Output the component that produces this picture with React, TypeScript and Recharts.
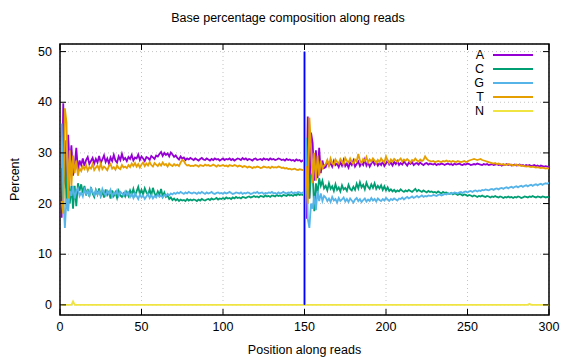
import React from "react";
import { ComposedChart, Line, XAxis, YAxis, CartesianGrid, ReferenceLine, ReferenceArea, Legend } from "recharts";

// read 1 (positions 1-150) and read 2 (151-300), percent per base
const aRead1 = [
    17.2, 39.8, 24.5, 23.0, 33.6, 27.0, 31.5, 25.5, 27.5, 31.0,
    26.5, 28.5, 27.6, 28.9, 27.4, 28.6, 29.2, 27.8, 28.4, 29.0,
    27.9, 28.8, 28.1, 29.4, 28.0, 28.7, 29.5, 28.2, 28.9, 27.9,
    29.1, 28.4, 29.6, 28.5, 28.1, 29.3, 28.6, 29.8, 28.7, 29.0,
    28.4, 29.2, 28.8, 29.6, 28.5, 29.1, 28.9, 29.7, 28.6, 29.3,
    28.9, 28.4, 29.2, 29.0, 28.6, 29.4, 29.1, 28.8, 29.5, 29.3,
    29.8, 30.2, 29.4, 30.0, 29.6, 29.9, 29.3, 30.1, 29.7, 29.2,
    29.5, 29.0, 28.7, 29.3, 28.9, 29.1, 28.6, 28.9, 28.7, 29.0,
    28.8, 28.6, 28.9, 28.7, 28.5, 28.8, 29.0, 28.7, 28.6, 28.9,
    28.7, 28.5, 28.8, 28.6, 28.9, 28.7, 28.8, 28.5, 28.7, 28.9,
    28.6, 28.8, 28.7, 28.9, 28.6, 28.8, 28.5, 28.7, 28.9, 28.8,
    28.6, 29.0, 28.7, 28.9, 28.6, 28.8, 28.7, 28.5, 28.8, 28.9,
    28.6, 28.7, 28.8, 28.6, 28.9, 28.7, 28.8, 28.6, 28.9, 28.7,
    28.8, 28.6, 28.7, 28.9, 28.8, 28.6, 28.7, 28.5, 28.8, 28.6,
    28.7, 28.5, 28.6, 28.4, 28.7, 28.5, 28.6, 28.3, 28.5, 28.4,
];
const aRead2 = [
    17.0, 37.2, 21.0, 34.0, 32.0, 24.5, 30.5, 25.0, 31.0, 26.0,
    28.5, 27.0, 27.2, 28.3, 27.5, 28.0, 27.3, 28.4, 27.6, 27.9,
    27.2, 28.2, 27.5, 28.6, 27.4, 27.9, 27.1, 28.1, 27.6, 28.5,
    27.3, 27.8, 28.3, 27.4, 28.0, 27.6, 28.7, 27.5, 28.1, 27.3,
    27.9, 28.4, 27.7, 28.2, 27.5, 28.0, 27.6, 28.3, 27.4, 27.9,
    28.5, 27.7, 28.1, 27.5, 28.2, 27.8, 28.4, 27.6, 28.0, 27.7,
    28.3, 27.9, 27.5, 28.1, 27.8, 28.2, 27.6, 27.9, 28.0, 27.7,
    28.1, 27.8, 27.6, 27.9, 28.0, 27.7, 27.9, 27.8, 27.7, 27.9,
    27.6, 27.8, 27.7, 27.9, 27.8, 27.6, 27.8, 27.9, 27.7, 27.8,
    27.6, 27.9, 27.7, 27.8, 27.9, 27.7, 27.6, 27.8, 27.7, 27.9,
    27.8, 27.6, 27.7, 27.8, 27.7, 27.9, 27.8, 27.7, 27.6, 27.8,
    27.7, 27.8, 27.6, 27.7, 27.8, 27.6, 27.7, 27.8, 27.6, 27.7,
    27.5, 27.7, 27.6, 27.8, 27.6, 27.7, 27.5, 27.6, 27.7, 27.5,
    27.6, 27.7, 27.5, 27.6, 27.4, 27.6, 27.5, 27.6, 27.4, 27.5,
    27.6, 27.4, 27.5, 27.3, 27.5, 27.4, 27.3, 27.4, 27.3, 27.2,
];

const cRead1 = [
    27.0, 21.0, 32.5, 19.5, 27.0, 20.0, 23.5, 19.0, 23.5, 19.5,
    24.0, 22.5, 23.8, 22.1, 23.5, 21.6, 22.9, 21.4, 23.2, 22.0,
    21.3, 22.7, 21.8, 23.0, 21.5, 22.4, 21.2, 22.8, 21.7, 22.3,
    21.0, 22.6, 21.5, 22.2, 21.1, 22.5, 21.6, 21.3, 22.0, 21.4,
    22.3, 21.5, 22.6, 21.8, 22.9, 21.6, 22.4, 23.3, 21.9, 22.7,
    21.8, 23.0, 22.2, 21.7, 22.8, 21.6, 23.1, 22.0, 21.5, 22.4,
    21.7, 22.9, 21.4, 22.2, 21.3, 21.6, 20.9, 21.2, 20.7, 21.0,
    20.6, 20.9, 20.5, 20.8, 20.6, 20.7, 20.5, 20.9, 20.6, 20.8,
    20.6, 20.8, 20.7, 20.5, 20.8, 20.6, 20.9, 20.7, 20.6, 20.8,
    20.9, 20.7, 21.0, 20.8, 20.9, 21.1, 20.8, 21.0, 20.9, 21.1,
    20.9, 21.2, 21.0, 21.1, 20.9, 21.2, 21.0, 21.3, 21.1, 21.2,
    21.0, 21.3, 21.2, 21.1, 21.3, 21.4, 21.2, 21.3, 21.5, 21.3,
    21.4, 21.2, 21.5, 21.4, 21.3, 21.6, 21.4, 21.5, 21.3, 21.6,
    21.5, 21.4, 21.7, 21.5, 21.6, 21.4, 21.7, 21.6, 21.5, 21.8,
    21.6, 21.7, 21.5, 21.8, 21.6, 21.9, 21.7, 21.8, 21.7, 21.9,
];
const cRead2 = [
    22.0, 27.0, 21.0, 25.5, 26.0, 18.5, 24.0, 22.0, 25.0, 23.5,
    24.5, 23.0, 23.5, 22.6, 24.0, 22.9, 23.4, 22.5, 23.8, 22.7,
    23.2, 22.4, 23.6, 22.8, 23.1, 22.5, 23.7, 22.9, 22.6, 23.3,
    22.7, 23.9, 23.0, 24.2, 23.2, 23.7, 22.8, 24.1, 23.3, 22.9,
    23.8, 23.1, 24.0, 22.9, 23.5, 23.0, 23.6, 22.7, 23.4, 22.6,
    23.2, 22.5, 22.8, 22.4, 22.7, 22.3, 22.6, 22.4, 22.8, 22.5,
    22.3, 22.6, 22.4, 22.7, 22.5, 22.3, 22.6, 22.9, 22.4, 22.7,
    22.5, 22.3, 22.6, 22.4, 22.2, 22.5, 22.3, 22.4, 22.2, 22.3,
    22.1, 22.4, 22.2, 22.0, 22.3, 22.1, 22.2, 22.0, 21.9, 22.1,
    21.8, 22.0, 21.9, 21.7, 21.9, 21.8, 21.6, 21.8, 21.7, 21.5,
    21.7, 21.6, 21.4, 21.6, 21.5, 21.3, 21.5, 21.4, 21.6, 21.4,
    21.3, 21.5, 21.4, 21.2, 21.4, 21.3, 21.5, 21.3, 21.2, 21.4,
    21.3, 21.1, 21.3, 21.2, 21.4, 21.2, 21.3, 21.1, 21.3, 21.2,
    21.4, 21.3, 21.1, 21.2, 21.4, 21.3, 21.2, 21.4, 21.3, 21.5,
    21.3, 21.2, 21.4, 21.3, 21.2, 21.4, 21.3, 21.2, 21.3, 21.2,
];

const gRead1 = [
    35.8, 21.5, 15.2, 21.0, 18.5, 22.5, 21.5, 23.5, 21.0, 22.5,
    23.0, 21.5, 22.2, 21.4, 22.8, 21.9, 22.5, 21.6, 23.0, 22.3,
    21.7, 22.6, 21.8, 22.4, 21.5, 22.9, 22.1, 21.6, 22.5, 21.9,
    22.7, 21.4, 22.2, 21.8, 22.6, 21.5, 22.3, 22.0, 21.6, 22.4,
    21.7, 22.2, 21.3, 21.9, 21.1, 22.0, 21.5, 20.9, 21.8, 21.2,
    21.6, 20.9, 21.4, 21.9, 21.1, 21.7, 21.0, 21.5, 21.2, 21.8,
    21.3, 21.6, 21.2, 21.7, 21.5, 21.9, 21.6, 22.0, 21.8, 22.1,
    21.9, 22.2, 22.0, 22.3, 22.1, 21.9, 22.2, 22.0, 22.3, 22.1,
    22.0, 22.2, 22.1, 21.9, 22.2, 22.0, 22.3, 22.1, 21.9, 22.2,
    22.0, 22.1, 22.3, 22.0, 21.9, 22.1, 22.2, 22.0, 22.1, 21.9,
    22.2, 22.0, 22.1, 22.3, 22.1, 21.9, 22.0, 22.2, 22.1, 22.0,
    22.2, 21.9, 22.1, 22.0, 22.2, 22.1, 21.9, 22.0, 22.2, 22.1,
    22.3, 22.0, 22.1, 22.2, 21.9, 22.1, 22.0, 22.2, 22.1, 22.3,
    22.0, 22.1, 21.9, 22.2, 22.0, 22.1, 22.3, 22.1, 22.0, 22.2,
    22.1, 22.3, 22.0, 22.2, 22.1, 22.3, 22.2, 22.0, 22.2, 22.1,
];
const gRead2 = [
    33.0, 17.0, 15.2, 20.0, 19.0, 21.5, 18.7, 22.5, 20.5, 22.0,
    20.5, 21.5, 21.2, 20.5, 21.0, 20.3, 21.3, 20.6, 20.9, 20.2,
    21.1, 20.5, 20.8, 21.2, 20.4, 20.9, 20.3, 21.0, 20.6, 20.2,
    20.8, 21.1, 20.5, 20.9, 20.3, 20.7, 21.0, 20.4, 20.8, 20.5,
    21.1, 20.6, 20.9, 20.4, 21.0, 20.7, 20.5, 20.9, 20.6, 21.1,
    20.8, 20.5, 20.9, 20.7, 21.0, 20.8, 20.6, 21.0, 20.9, 21.2,
    20.8, 21.1, 21.3, 21.0, 21.2, 21.4, 21.1, 21.3, 21.5, 21.2,
    21.4, 21.6, 21.3, 21.5, 21.4, 21.6, 21.5, 21.5, 21.7, 21.6,
    21.5, 21.7, 21.8, 21.6, 21.7, 21.9, 21.8, 22.0, 21.9, 22.1,
    22.0, 22.2, 22.1, 22.0, 22.2, 22.3, 22.1, 22.3, 22.4, 22.2,
    22.4, 22.5, 22.3, 22.5, 22.6, 22.4, 22.6, 22.5, 22.7, 22.6,
    22.8, 22.7, 22.6, 22.8, 22.9, 22.7, 22.9, 23.0, 22.8, 23.0,
    23.1, 22.9, 23.1, 23.2, 23.0, 23.2, 23.3, 23.1, 23.3, 23.4,
    23.2, 23.4, 23.5, 23.3, 23.5, 23.6, 23.4, 23.6, 23.7, 23.5,
    23.7, 23.8, 23.6, 23.8, 23.9, 23.7, 23.9, 24.0, 23.9, 24.1,
];

const tRead1 = [
    20.5, 18.0, 38.8, 36.0, 21.0, 30.5, 23.5, 29.5, 26.0, 28.5,
    25.5, 27.0, 26.4, 27.3, 26.8, 27.6, 26.5, 27.2, 26.9, 27.8,
    26.6, 27.1, 27.5, 26.7, 27.9, 26.8, 27.3, 27.0, 26.6, 27.4,
    27.8, 26.9, 27.2, 26.7, 27.5, 27.0, 26.8, 27.6, 27.1, 27.3,
    27.0, 27.6, 27.2, 27.9, 27.4, 28.0, 27.3, 27.8, 27.1, 27.7,
    28.1, 27.4, 27.9, 27.5, 28.2, 27.6, 27.3, 28.0, 27.7, 27.4,
    27.9, 27.5, 28.1, 27.6, 27.8, 27.3, 27.9, 27.6, 27.4, 27.8,
    27.5, 27.7, 27.4, 28.1, 28.6, 28.4, 27.8, 27.5, 27.6, 27.4,
    27.5, 27.4, 27.6, 27.5, 27.3, 27.6, 27.5, 27.4, 27.7, 27.5,
    27.6, 27.4, 27.5, 27.7, 27.5, 27.3, 27.6, 27.4, 27.5, 27.6,
    27.4, 27.5, 27.3, 27.6, 27.5, 27.4, 27.6, 27.5, 27.3, 27.5,
    27.4, 27.2, 27.4, 27.3, 27.1, 27.3, 27.2, 27.0, 27.2, 27.1,
    27.3, 27.2, 27.0, 27.1, 27.3, 27.2, 27.1, 27.2, 27.0, 27.3,
    27.1, 27.2, 27.1, 27.3, 27.2, 27.0, 27.1, 26.9, 27.0, 26.8,
    26.9, 26.7, 26.8, 26.9, 26.7, 26.6, 26.8, 26.7, 26.6, 26.5,
];
const tRead2 = [
    27.0, 20.0, 37.0, 31.0, 24.0, 30.0, 24.5, 29.5, 25.5, 28.5,
    27.0, 27.5, 27.8, 28.6, 27.5, 28.9, 28.0, 27.6, 28.7, 28.2,
    27.9, 28.8, 28.3, 27.7, 29.0, 28.4, 28.1, 28.9, 28.2, 27.8,
    28.7, 28.3, 29.8, 28.5, 28.0, 28.8, 28.4, 29.2, 28.1, 28.7,
    28.3, 28.9, 28.5, 28.0, 28.6, 28.2, 28.9, 28.4, 28.1, 29.3,
    28.5, 28.0, 28.7, 28.3, 28.8, 28.5, 28.2, 28.6, 28.9, 28.3,
    28.7, 28.4, 28.8, 28.5, 28.1, 28.6, 28.4, 28.9, 28.5, 28.3,
    28.7, 28.4, 28.6, 29.3, 28.8, 28.5, 28.4, 28.3, 28.4, 28.2,
    28.3, 28.4, 28.3, 28.2, 28.4, 28.3, 28.5, 28.3, 28.4, 28.2,
    28.4, 28.3, 28.2, 28.4, 28.3, 28.2, 28.3, 28.4, 28.2, 28.3,
    28.5, 28.6, 28.7, 28.8, 28.7, 28.6, 28.7, 28.8, 28.6, 28.5,
    28.4, 28.3, 28.2, 28.1, 28.0, 27.9, 28.0, 27.8, 27.9, 27.8,
    27.7, 27.8, 27.6, 27.7, 27.8, 27.6, 27.7, 27.5, 27.6, 27.7,
    27.5, 27.6, 27.4, 27.5, 27.4, 27.3, 27.4, 27.3, 27.2, 27.3,
    27.2, 27.1, 27.2, 27.1, 27.0, 27.1, 27.0, 26.9, 27.0, 26.9,
];

const nRead1 = [
    0, 0, 0, 0, 0, 0, 0, 0.7, 0, 0, 0, 0, 0, 0, 0, 0, 0, 0, 0, 0, 0, 0, 0, 0, 0, 0, 0, 0, 0, 0,
    0, 0, 0, 0, 0, 0, 0, 0, 0, 0, 0, 0, 0, 0, 0, 0, 0, 0, 0, 0, 0, 0, 0, 0, 0, 0, 0, 0, 0, 0,
    0, 0, 0, 0, 0, 0, 0, 0, 0, 0, 0, 0, 0, 0, 0, 0, 0, 0, 0, 0, 0, 0, 0, 0, 0, 0, 0, 0, 0, 0,
    0, 0, 0, 0, 0, 0, 0, 0, 0, 0, 0, 0, 0, 0, 0, 0, 0, 0, 0, 0, 0, 0, 0, 0, 0, 0, 0, 0, 0, 0,
    0, 0, 0, 0, 0, 0, 0, 0, 0, 0, 0, 0, 0, 0, 0, 0, 0, 0, 0, 0, 0, 0, 0, 0, 0, 0, 0, 0, 0, 0,
];
const nRead2 = [
    0, 0, 0, 0, 0, 0, 0, 0, 0, 0, 0, 0, 0, 0, 0, 0, 0, 0, 0, 0, 0, 0, 0, 0, 0, 0, 0, 0, 0, 0,
    0, 0, 0, 0, 0, 0, 0, 0, 0, 0, 0, 0, 0, 0, 0, 0, 0, 0, 0, 0, 0, 0, 0, 0, 0, 0, 0, 0, 0, 0,
    0, 0, 0, 0, 0, 0, 0, 0, 0, 0, 0, 0, 0, 0, 0, 0, 0, 0, 0, 0, 0, 0, 0, 0, 0, 0, 0, 0, 0, 0,
    0, 0, 0, 0, 0, 0, 0, 0, 0, 0, 0, 0, 0, 0, 0, 0, 0, 0, 0, 0, 0, 0, 0, 0, 0, 0, 0, 0, 0, 0,
    0, 0, 0, 0, 0, 0, 0, 0, 0, 0, 0, 0, 0, 0, 0, 0, 0, 0.2, 0, 0, 0, 0, 0, 0, 0, 0, 0, 0, 0, 0,
];

const xTicks = [0, 50, 100, 150, 200, 250, 300];
const yTicks = [0, 10, 20, 30, 40, 50];
const readBoundary = 150;

const series = [
    { key: "A", color: "#9400d3" },
    { key: "C", color: "#009e73" },
    { key: "G", color: "#56b4e9" },
    { key: "T", color: "#e69f00" },
    { key: "N", color: "#f0e442" },
];

const A = [...aRead1, ...aRead2];
const C = [...cRead1, ...cRead2];
const G = [...gRead1, ...gRead2];
const T = [...tRead1, ...tRead2];
const N = [...nRead1, ...nRead2];

const data = A.map((_, i) => ({ pos: i + 1, A: A[i], C: C[i], G: G[i], T: T[i], N: N[i] }));

// plot frame in pixels (layout only)
const W = 576;
const H = 360;
const LEFT = 60;
const RIGHT = 549;
const TOP = 44;
const BOTTOM = 315;
const TICK = 6;
const FONT = "'Liberation Sans', Arial, sans-serif";

const XTick = (props: any) => {
    const { x, payload } = props;
    return (
        <g>
            <line x1={x} x2={x} y1={BOTTOM} y2={BOTTOM - TICK} stroke="#000" />
            <line x1={x} x2={x} y1={TOP} y2={TOP + TICK} stroke="#000" />
            <text x={x} y={BOTTOM + 16} textAnchor="middle" fontSize={12.5} fontFamily={FONT} fill="#000">
                {payload.value}
            </text>
        </g>
    );
};

const YTick = (props: any) => {
    const { y, payload } = props;
    return (
        <g>
            <line x1={LEFT} x2={LEFT + TICK} y1={y} y2={y} stroke="#000" />
            <line x1={RIGHT} x2={RIGHT - TICK} y1={y} y2={y} stroke="#000" />
            <text x={LEFT - 8} y={y + 4} textAnchor="end" fontSize={12.5} fontFamily={FONT} fill="#000">
                {payload.value}
            </text>
        </g>
    );
};

const KeyBox = () => (
    <svg width={80} height={76} style={{ display: "block" }}>
        {series.map((s, i) => (
            <g key={s.key}>
                <text x={14} y={13 + i * 14} textAnchor="end" fontSize={12.5} fontFamily={FONT} fill="#000">
                    {s.key}
                </text>
                <line x1={23} x2={63} y1={9 + i * 14} y2={9 + i * 14} stroke={s.color} strokeWidth={2} />
            </g>
        ))}
    </svg>
);

export default function App() {
    return (
        <div style={{ position: "absolute", left: 0, top: 0, width: W, height: H, background: "#fff" }}>
            <ComposedChart
                width={W}
                height={H}
                data={data}
                margin={{ top: TOP, right: W - RIGHT, bottom: 0, left: 0 }}
            >
                <CartesianGrid stroke="#c4c4c4" strokeDasharray="1 3" strokeWidth={1} />
                <XAxis
                    dataKey="pos"
                    type="number"
                    domain={[0, 300]}
                    ticks={xTicks}
                    allowDataOverflow
                    height={H - BOTTOM}
                    axisLine={false}
                    tickLine={false}
                    tick={<XTick />}
                    interval={0}
                />
                <YAxis
                    type="number"
                    domain={[-2, 51.5]}
                    ticks={yTicks}
                    allowDataOverflow
                    width={LEFT}
                    axisLine={false}
                    tickLine={false}
                    tick={<YTick />}
                    interval={0}
                />
                {series.map((s) => (
                    <Line
                        key={s.key}
                        dataKey={s.key}
                        type="linear"
                        stroke={s.color}
                        strokeWidth={1.8}
                        dot={false}
                        isAnimationActive={false}
                    />
                ))}
                <ReferenceLine
                    segment={[{ x: readBoundary, y: 0 }, { x: readBoundary, y: 50 }]}
                    stroke="#9090ff"
                    strokeWidth={3}
                />
                <ReferenceLine
                    segment={[{ x: readBoundary, y: 0 }, { x: readBoundary, y: 50 }]}
                    stroke="#0000ff"
                    strokeWidth={1}
                />
                <ReferenceArea x1={0} x2={300} y1={-2} y2={51.5} fill="none" stroke="#000" strokeWidth={1.5} />
                <Legend
                    layout="vertical"
                    align="center"
                    verticalAlign="middle"
                    wrapperStyle={{ position: "absolute", left: 470, top: 46, width: 80 }}
                    content={() => <KeyBox />}
                />
                <text x={288} y={22} textAnchor="middle" fontSize={12.5} fontFamily={FONT} fill="#000">
                    Base percentage composition along reads
                </text>
                <text x={(LEFT + RIGHT) / 2} y={354} textAnchor="middle" fontSize={12.5} fontFamily={FONT} fill="#000">
                    Position along reads
                </text>
                <text
                    x={19}
                    y={(TOP + BOTTOM) / 2}
                    textAnchor="middle"
                    fontSize={12.5}
                    fontFamily={FONT}
                    fill="#000"
                    transform={`rotate(-90 19 ${(TOP + BOTTOM) / 2})`}
                >
                    Percent
                </text>
            </ComposedChart>
        </div>
    );
}
